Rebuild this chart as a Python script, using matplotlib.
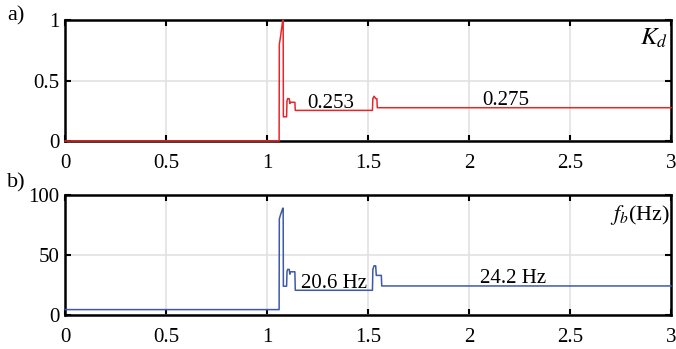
import numpy as np
import matplotlib.pyplot as plt

plt.rcParams['font.family'] = ['Liberation Serif', 'DejaVu Serif']
plt.rcParams['mathtext.fontset'] = 'stix'

# K_d trace (time in s, value)
t_kd = [0, 1.060, 1.061, 1.066, 1.078, 1.080, 1.081, 1.097, 1.099, 1.102, 1.110, 1.113,
        1.116, 1.138, 1.140, 1.522, 1.524, 1.530, 1.538, 1.544, 1.546, 3.0]
kd = [0, 0, 0.80, 0.85, 1.0, 1.0, 0.20, 0.20, 0.33, 0.35, 0.35, 0.31,
      0.32, 0.32, 0.253, 0.253, 0.35, 0.37, 0.35, 0.35, 0.275, 0.275]

# f_b trace (time in s, Hz)
t_fb = [0, 1.060, 1.061, 1.066, 1.078, 1.080, 1.081, 1.097, 1.099, 1.102, 1.110, 1.113,
        1.116, 1.138, 1.140, 1.522, 1.524, 1.530, 1.538, 1.541, 1.544, 1.566, 1.568, 3.0]
fb = [4.5, 4.5, 80, 83, 89, 89, 24, 24, 36, 38, 38, 34,
      36, 36, 20.6, 20.6, 38, 41, 41, 33, 33, 33, 24.2, 24.2]

xticks = [0, 0.5, 1, 1.5, 2, 2.5, 3]
xticklabels = ['0', '0.5', '1', '1.5', '2', '2.5', '3']

fig = plt.figure(figsize=(6.76, 3.49), dpi=100)
ax1 = fig.add_axes([65 / 676, 1 - 141 / 349, 606 / 676, 121 / 349])
ax2 = fig.add_axes([65 / 676, 1 - 315 / 349, 606 / 676, 120 / 349])

for ax in (ax1, ax2):
    ax.set_xlim(0, 3)
    ax.set_xticks(xticks)
    ax.set_xticklabels(xticklabels)
    ax.grid(True, color='#e2e2e2', linewidth=1.2)
    ax.set_axisbelow(True)
    ax.tick_params(direction='in', labelsize=15, length=4, width=1.5, pad=4,
                   top=True, right=True)
    ax.tick_params(axis='x', pad=9)
    for s in ax.spines.values():
        s.set_linewidth(1.8)

ax1.plot(t_kd, kd, color='#e8262a', linewidth=1.1, clip_on=False, zorder=3)
ax1.set_ylim(0, 1)
ax1.set_yticks([0, 0.5, 1])
ax1.set_yticklabels(['0', '0.5', '1'])
ax1.text(2.985, 0.80, '$K_d$', ha='right', va='baseline', fontsize=18)
ax1.text(1.315, 0.27, '0.253', ha='center', va='baseline', fontsize=15)
ax1.text(2.183, 0.30, '0.275', ha='center', va='baseline', fontsize=15)

ax2.plot(t_fb, fb, color='#3d5aa8', linewidth=1.1, clip_on=False, zorder=3)
ax2.set_ylim(0, 100)
ax2.set_yticks([0, 50, 100])
ax2.set_yticklabels(['0', '50', '100'])
ax2.text(2.995, 79, '$f_b$(Hz)', ha='right', va='baseline', fontsize=16)
ax2.text(1.33, 22.2, '20.6 Hz', ha='center', va='baseline', fontsize=15)
ax2.text(2.22, 26.4, '24.2 Hz', ha='center', va='baseline', fontsize=15)

fig.text(7 / 676, 1 - 16 / 349, 'a)', fontsize=16, va='center')
fig.text(7 / 676, 1 - 183 / 349, 'b)', fontsize=16, va='center')

fig.savefig('out.png', dpi=100)
